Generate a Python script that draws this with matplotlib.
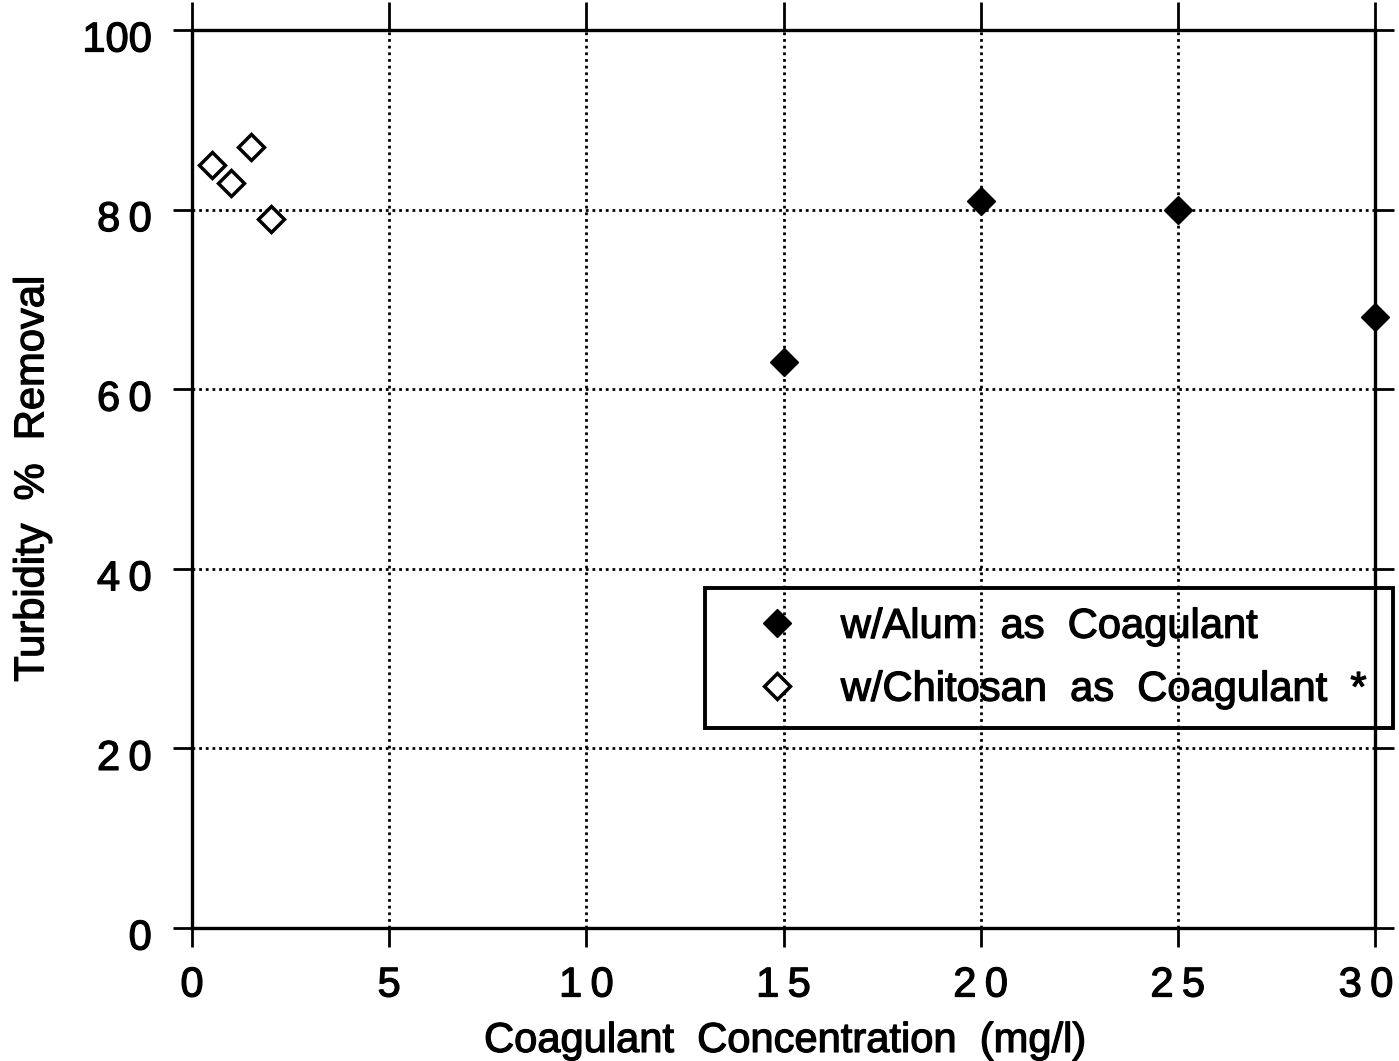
import matplotlib
matplotlib.use("Agg")
import matplotlib.pyplot as plt
import matplotlib.patheffects as pe
from matplotlib.transforms import ScaledTranslation

plt.rcParams['font.family'] = ['Liberation Sans', 'DejaVu Sans']

# Jar-test results: turbidity removal against coagulant dose
alum_dose = [15, 20, 25, 30]
alum_removal = [63, 81, 80, 68]
chitosan_dose = [0.5, 1.0, 1.5, 2.0]
chitosan_removal = [85, 83, 87, 79]

x_ticks = [0, 5, 10, 15, 20, 25, 30]
y_ticks = [0, 20, 40, 60, 80, 100]

alum_label = "w/Alum  as  Coagulant"
chitosan_label = "w/Chitosan  as  Coagulant  *"
x_title = "Coagulant  Concentration  (mg/l)"
y_title = "Turbidity  %  Removal"

FS = 30
W, H = 1399, 1061
heavy = [pe.withStroke(linewidth=0.9, foreground='black')]


def spaced(v):
    s = str(v)
    # two-digit labels are typeset with a gap between the digits
    return "\u2009".join(s) if len(s) == 2 else s


fig = plt.figure(figsize=(W / 100, H / 100), dpi=100)
ax = fig.add_axes([192 / W, 1 - 928 / H, (1375 - 192) / W, (928 - 30) / H])

ax.set_xlim(0, 30)
ax.set_ylim(0, 100)

ax.set_xticks(x_ticks)
ax.set_xticklabels([spaced(v) for v in x_ticks])
ax.set_yticks(y_ticks)
ax.set_yticklabels([spaced(v) for v in y_ticks])

ax.grid(True, color='black', linestyle=(0, (1, 1.4)), linewidth=2.0)
ax.set_axisbelow(True)

for sp in ax.spines.values():
    sp.set_linewidth(2.4)
    sp.set_color('black')

ax.tick_params(axis='both', which='major', direction='out', length=14, width=2.0,
               top=True, right=True, labelsize=FS, colors='black')
ax.tick_params(axis='x', which='major', top=True)
ax.xaxis.set_tick_params(which='major', length=14)
ax.tick_params(axis='x', pad=13)
ax.tick_params(axis='y', pad=15)
# the upper ticks reach further up than the lower ones reach down
for tk in ax.xaxis.get_major_ticks():
    tk.tick2line.set_markersize(20)

# y labels sit a little below their ticks; the last x label is nudged inward
for lab in ax.get_yticklabels():
    lab.set_transform(lab.get_transform() + ScaledTranslation(0, -6 / 100, fig.dpi_scale_trans))
    lab.set_path_effects(heavy)
xlabs = ax.get_xticklabels()
for lab in xlabs:
    lab.set_path_effects(heavy)
xlabs[-1].set_transform(xlabs[-1].get_transform() + ScaledTranslation(-9 / 100, 0, fig.dpi_scale_trans))

ax.plot(alum_dose, alum_removal, linestyle='none', marker='D', markersize=14.5,
        markerfacecolor='black', markeredgecolor='black', label=alum_label,
        clip_on=False, zorder=5)
ax.plot(chitosan_dose, chitosan_removal, linestyle='none', marker='D', markersize=13.5,
        markerfacecolor='white', markeredgecolor='black', markeredgewidth=2.5,
        label=chitosan_label, clip_on=False, zorder=5)

ax.set_xlabel(x_title, fontsize=FS, path_effects=heavy)
ax.set_ylabel(y_title, fontsize=FS, path_effects=heavy)
ax.xaxis.set_label_coords(0.501, -0.138)
ax.xaxis.label.set_va('baseline')
ax.yaxis.set_label_coords(-0.135, 0.5)
ax.yaxis.label.set_va('center')

leg_x0, leg_top, leg_w = 705 / W, 1 - 588 / H, (1393 - 705) / W
leg = fig.legend(loc='upper left', bbox_to_anchor=(leg_x0, leg_top - 0.2, leg_w, 0.2),
                 mode='expand', borderaxespad=0, fontsize=FS, frameon=True,
                 fancybox=False, framealpha=1.0, edgecolor='black', facecolor='none',
                 numpoints=1, handlelength=2.56, handletextpad=0.25,
                 borderpad=0.45, labelspacing=0.55)
frame = leg.get_frame()
frame.set_linewidth(2.8)
frame.set_edgecolor('black')
frame.set_facecolor('none')
for t in leg.get_texts():
    t.set_path_effects(heavy)

fig.savefig("out.png", dpi=100, facecolor='white')
